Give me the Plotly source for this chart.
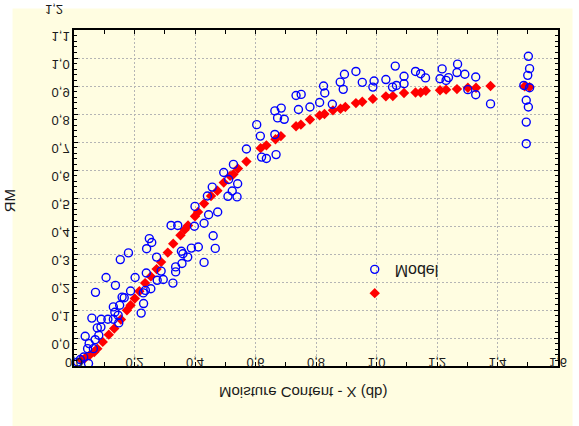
import plotly.graph_objects as go

# Measured moisture ratio points (open circles)
meas_x = [0.012, 0.021, 0.032, 0.048, 0.045, 0.064, 0.05, 0.037, 0.07, 0.082, 0.077, 0.089,
          0.059, 0.09, 0.112, 0.13, 0.148, 0.146, 0.135, 0.13, 0.151, 0.071, 0.106, 0.137,
          0.159, 0.166, 0.187, 0.202, 0.222, 0.23, 0.229, 0.236, 0.254, 0.275, 0.295, 0.288,
          0.239, 0.273, 0.153, 0.18, 0.24, 0.257, 0.249, 0.327, 0.336, 0.336, 0.357, 0.376,
          0.36, 0.355, 0.388, 0.411, 0.321, 0.343, 0.398, 0.40,
          0.43, 0.467, 0.46, 0.43, 0.445, 0.475,
          0.441, 0.457, 0.495, 0.511, 0.527, 0.541, 0.509, 0.523, 0.539, 0.57, 0.604, 0.616,
          0.62, 0.636, 0.664, 0.664, 0.668, 0.673, 0.685, 0.695, 0.734, 0.751, 0.742,
          0.78, 0.812, 0.825, 0.829, 0.854, 0.88, 0.89, 0.894, 0.932, 0.953, 0.988, 0.992,
          1.031, 1.053, 1.062, 1.066, 1.091, 1.091, 1.129, 1.146, 1.162, 1.21, 1.217, 1.23,
          1.238, 1.268, 1.266, 1.292, 1.302, 1.328, 1.328, 1.377,
          1.502, 1.506, 1.5, 1.487, 1.506, 1.495, 1.502, 1.495, 1.495]
meas_y = [-0.086, -0.077, -0.068, -0.091, -0.038, -0.038, -0.02, 0.006, -0.006, 0.01, 0.036, 0.039,
          0.071, 0.067, 0.067, 0.067, 0.054, 0.081, 0.092, 0.111, 0.117, 0.163, 0.216, 0.188,
          0.146, 0.144, 0.168, 0.216, 0.089, 0.123, 0.161, 0.17, 0.176, 0.206, 0.209, 0.239,
          0.232, 0.289, 0.28, 0.304, 0.319, 0.341, 0.355, 0.196, 0.236, 0.254, 0.266, 0.289,
          0.301, 0.31, 0.321, 0.325, 0.402, 0.402, 0.399, 0.47,
          0.27, 0.32, 0.365, 0.41, 0.44, 0.45,
          0.507, 0.539, 0.591, 0.566, 0.62, 0.551, 0.506, 0.525, 0.504, 0.675, 0.762, 0.721,
          0.646, 0.641, 0.811, 0.727, 0.655, 0.786, 0.821, 0.781, 0.866, 0.87, 0.816,
          0.825, 0.841, 0.90, 0.875, 0.835, 0.914, 0.888, 0.942, 0.952, 0.913, 0.896, 0.918,
          0.923, 0.896, 0.971, 0.902, 0.935, 0.908, 0.952, 0.944, 0.929, 0.926, 0.961, 0.92,
          0.93, 0.978, 0.948, 0.942, 0.887, 0.932, 0.869, 0.836,
          1.006, 0.962, 0.938, 0.902, 0.894, 0.849, 0.825, 0.771, 0.694]

# Fitted curve points (filled diamonds)
fit_x = [0.025, 0.037, 0.051, 0.067, 0.077, 0.095, 0.115, 0.133, 0.155, 0.175, 0.187, 0.201,
         0.216, 0.235, 0.254, 0.273, 0.288, 0.31, 0.328, 0.352, 0.366, 0.377, 0.4, 0.41,
         0.43, 0.453, 0.474, 0.495, 0.516, 0.527, 0.542, 0.57, 0.617, 0.636, 0.666, 0.684,
         0.734, 0.75, 0.78, 0.812, 0.828, 0.856, 0.881, 0.897, 0.932, 0.953, 0.988, 1.031,
         1.054, 1.091, 1.129, 1.146, 1.163, 1.21, 1.23, 1.266, 1.302, 1.329, 1.377, 1.49, 1.506]
fit_y = [-0.078, -0.071, -0.062, -0.05, -0.038, -0.014, 0.012, 0.034, 0.066, 0.099, 0.117, 0.141,
         0.167, 0.196, 0.22, 0.246, 0.271, 0.305, 0.337, 0.367, 0.387, 0.402, 0.435, 0.45,
         0.48, 0.507, 0.526, 0.555, 0.579, 0.585, 0.605, 0.63, 0.678, 0.688, 0.71, 0.721,
         0.756, 0.762, 0.78, 0.795, 0.80, 0.813, 0.819, 0.825, 0.839, 0.844, 0.854, 0.863,
         0.864, 0.875, 0.877, 0.877, 0.883, 0.885, 0.887, 0.889, 0.894, 0.894, 0.90, 0.899, 0.896]

x_ticks = [0.0, 0.2, 0.4, 0.6, 0.8, 1.0, 1.2, 1.4, 1.6]
x_labels = ["0,0", "0,2", "0,4", "0,6", "0,8", "1,0", "1,2", "1,4", "1,6"]
y_ticks = [0.0, 0.1, 0.2, 0.3, 0.4, 0.5, 0.6, 0.7, 0.8, 0.9, 1.0, 1.1]
y_labels = ["0,0", "0,1", "0,2", "0,3", "0,4", "0,5", "0,6", "0,7", "0,8", "0,9", "1,0", "1,1"]
y_extra_tick = 1.2
y_extra_label = "1,2"

x_title = "Moisture Content - X (db)"
y_title = "MR"
meas_name = "Model"
fit_name = " "

FONT = "Liberation Sans, Arial, sans-serif"
TXT = "#1a1a1a"
Y_MIN, Y_MAX = -0.1, 1.1

fig = go.Figure()
fig.add_trace(go.Scatter(
    x=fit_x, y=fit_y, mode="markers", name=fit_name,
    marker=dict(symbol="diamond", size=8, color="#ff0000", line=dict(width=0)),
))
fig.add_trace(go.Scatter(
    x=meas_x, y=meas_y, mode="markers", name=meas_name,
    marker=dict(symbol="circle-open", size=8, color="#0000ff", line=dict(width=1.4)),
))

axis_common = dict(
    showline=True, linecolor="black", linewidth=1.5, mirror="allticks",
    ticks="inside", ticklen=4, tickcolor="black", tickwidth=1,
    showgrid=True, gridcolor="#b5b5b5", gridwidth=1, griddash="2px,2px",
    zeroline=False, tickfont=dict(family=FONT, size=13, color=TXT),
)

fig.update_xaxes(
    range=[0, 1.6], tickvals=x_ticks, ticktext=x_labels,
    minor=dict(dtick=0.1, ticks="inside", ticklen=4, tickcolor="black", showgrid=False),
    **axis_common,
)
fig.update_yaxes(
    range=[Y_MIN, Y_MAX], tickvals=y_ticks, ticktext=y_labels,
    minor=dict(dtick=0.02, tick0=0, ticks="inside", ticklen=3, tickcolor="black", showgrid=False),
    **axis_common,
)

# the 1,2 label sits above the frame, so it is placed in paper units
extra_y_paper = (y_extra_tick - Y_MIN) / (Y_MAX - Y_MIN)

fig.update_layout(
    width=579, height=426,
    margin=dict(l=73.5, r=13.5, t=29.7, b=60.3),
    paper_bgcolor="white", plot_bgcolor="white",
    separators=",.",
    showlegend=True,
    legend=dict(
        x=0.58, y=0.338, xanchor="left", yanchor="top",
        traceorder="reversed", bgcolor="rgba(0,0,0,0)", borderwidth=0,
        font=dict(family=FONT, size=16, color=TXT),
    ),
    shapes=[dict(
        type="rect", xref="paper", yref="paper",
        x0=-0.127, x1=1.03, y0=-0.2, y1=1.064,
        fillcolor="#fffde1", line=dict(width=0), layer="below",
    )],
    annotations=[
        dict(text=x_title, xref="paper", yref="paper", x=0.4726, y=-0.078,
             showarrow=False, xanchor="center", yanchor="middle",
             font=dict(family=FONT, size=15, color=TXT)),
        dict(text=y_title, xref="paper", yref="paper", x=-0.1331, y=0.493,
             showarrow=False, xanchor="center", yanchor="middle", textangle=-90,
             font=dict(family=FONT, size=15, color=TXT)),
        dict(text=y_extra_label, xref="paper", yref="paper", x=-0.0193, y=extra_y_paper,
             yshift=-7, showarrow=False, xanchor="right", yanchor="middle",
             font=dict(family=FONT, size=13, color=TXT)),
    ],
)

# Labels are drawn mirrored top-to-bottom, each about its own centre
flip_css = (
    "g.xtick, g.ytick, g.annotation, text.legendtext {"
    " transform-box: fill-box; transform-origin: center; }"
    " g.ytick { transform: translateY(6px) scaleY(-1); }"
    " g.xtick { transform: translateY(-16px) scaleY(-1); }"
    " g.annotation, text.legendtext { transform: scaleY(-1); }"
)
post_js = (
    "var st = document.createElement('style');"
    "st.textContent = '" + flip_css + "';"
    "document.head.appendChild(st);"
)

fig.write_html("out.html", post_script=post_js)
